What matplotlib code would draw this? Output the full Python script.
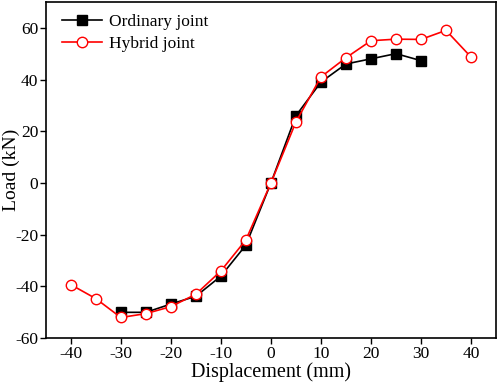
import matplotlib
matplotlib.use("Agg")
import matplotlib.pyplot as plt

plt.rcParams['font.family'] = ['Liberation Serif', 'DejaVu Serif']
plt.rcParams['axes.unicode_minus'] = False

ord_x = [-30, -25, -20, -15, -10, -5, 0, 5, 10, 15, 20, 25, 30]
ord_y = [-50, -50, -46.8, -43.8, -36, -24, 0, 26, 39, 46, 48, 50, 47.3]

hyb_x = [-40, -35, -30, -25, -20, -15, -10, -5, 0, 5, 10, 15, 20, 25, 30, 35, 40]
hyb_y = [-39.3, -44.7, -52, -50.5, -47.8, -43, -34, -22, 0, 23.6, 41, 48.4, 55, 55.6, 55.5, 59, 48.7]

fig = plt.figure(figsize=(4.98, 3.83), dpi=100)
ax = fig.add_axes([0.092, 0.117, 0.904, 0.878])

ax.plot(ord_x, ord_y, color='black', marker='s', markersize=7, lw=1.2,
        label='Ordinary joint')
ax.plot(hyb_x, hyb_y, color='red', marker='o', markersize=7.5, lw=1.2,
        markerfacecolor='white', markeredgecolor='red', label='Hybrid joint')

ax.set_xlim(-45, 45)
ax.set_ylim(-60, 70)
ax.set_xticks(range(-40, 41, 10))
ax.set_yticks(range(-60, 61, 20))
ax.tick_params(direction='out', labelsize=12.5, length=4, width=1, pad=1.5)
for s in ax.spines.values():
    s.set_linewidth(1.2)

ax.set_xlabel('Displacement (mm)', fontsize=14.5, labelpad=0)
ax.set_ylabel('Load (kN)', fontsize=14)
ax.yaxis.set_label_coords(-0.058, 0.5)

ax.legend(loc='upper left', bbox_to_anchor=(0.01, 1.0), frameon=False,
          fontsize=12.5, handlelength=2.3, borderaxespad=0.3,
          handletextpad=0.4, labelspacing=0.3)

fig.savefig('out.png', dpi=100)
